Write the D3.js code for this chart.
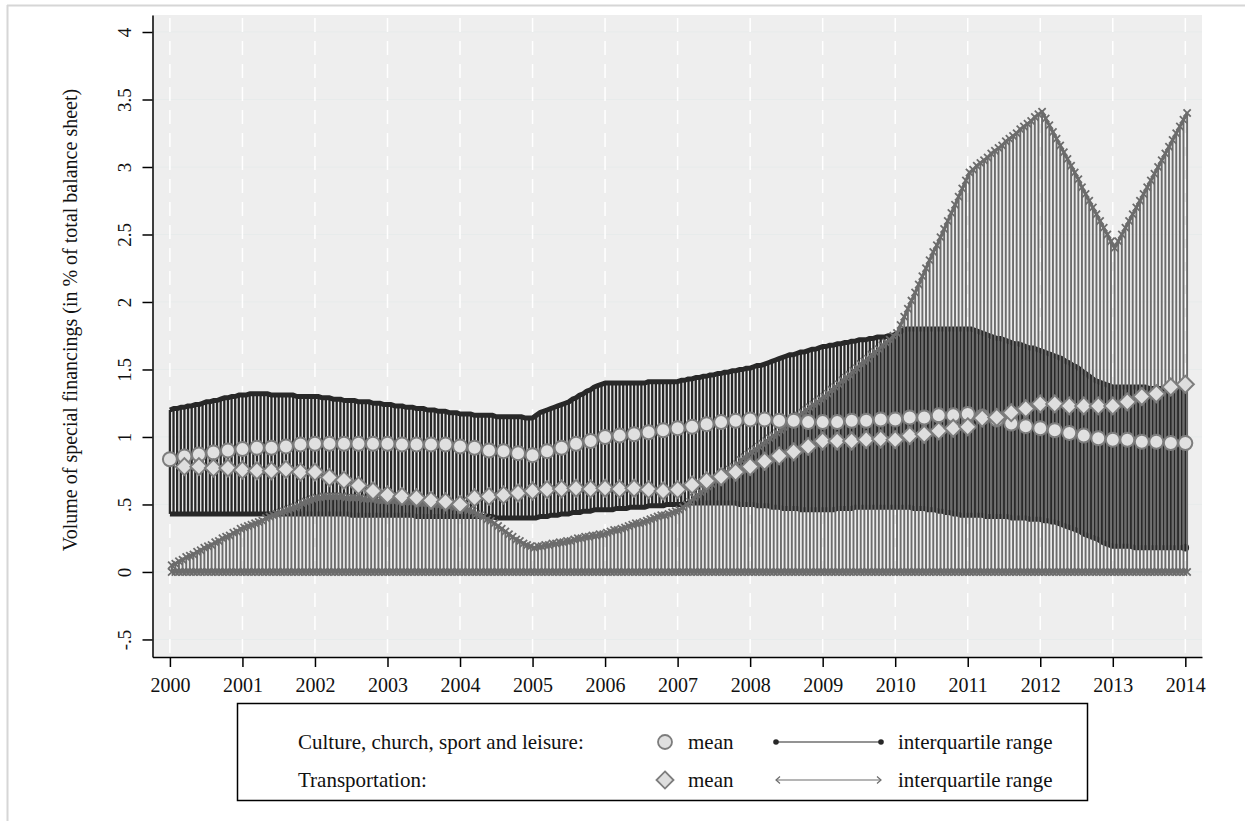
<!DOCTYPE html>
<html>
<head>
<meta charset="utf-8">
<script src="https://cdn.jsdelivr.net/npm/d3@7"></script>
<style>
body { margin: 0; background: #fff; }
text { font-family: "Liberation Serif", "DejaVu Serif", serif; fill: #111; }
</style>
</head>
<body>
<svg id="chart" width="1245" height="821"></svg>
<script>
// tick labels
var xTickYears = [2000,2001,2002,2003,2004,2005,2006,2007,2008,2009,2010,2011,2012,2013,2014];
var yTickValues = [-0.5,0,0.5,1,1.5,2,2.5,3,3.5,4];
var yTickLabels = ["-.5","0",".5","1","1.5","2","2.5","3","3.5","4"];

// interquartile range, 20 readings per year (2000 .. 2014)
var cultureHi = [
1.20,1.21,1.21,1.22,1.22,1.23,1.23,1.24,1.24,1.25,1.26,1.26,1.27,1.27,1.28,1.29,1.29,1.30,1.30,1.31,
1.31,1.31,1.32,1.32,1.32,1.32,1.32,1.32,1.31,1.31,1.31,1.31,1.31,1.31,1.31,1.30,1.30,1.30,1.30,1.30,
1.30,1.30,1.29,1.29,1.29,1.28,1.28,1.28,1.27,1.27,1.27,1.27,1.26,1.26,1.26,1.26,1.25,1.25,1.25,1.24,
1.24,1.24,1.23,1.23,1.23,1.22,1.22,1.22,1.21,1.21,1.21,1.20,1.20,1.20,1.19,1.19,1.19,1.18,1.18,1.18,
1.17,1.17,1.17,1.17,1.16,1.16,1.16,1.16,1.16,1.16,1.15,1.15,1.15,1.15,1.15,1.15,1.15,1.15,1.14,1.14,
1.14,1.16,1.18,1.19,1.20,1.21,1.22,1.23,1.24,1.25,1.26,1.28,1.29,1.31,1.32,1.34,1.35,1.37,1.38,1.39,
1.40,1.40,1.40,1.40,1.40,1.40,1.40,1.40,1.40,1.40,1.40,1.40,1.41,1.41,1.41,1.41,1.41,1.41,1.41,1.41,
1.41,1.42,1.42,1.43,1.43,1.44,1.44,1.45,1.45,1.46,1.46,1.47,1.47,1.48,1.48,1.49,1.49,1.50,1.50,1.51,
1.51,1.52,1.53,1.53,1.54,1.55,1.56,1.57,1.58,1.59,1.60,1.61,1.61,1.62,1.63,1.63,1.64,1.65,1.65,1.66,
1.67,1.67,1.68,1.68,1.69,1.69,1.70,1.70,1.71,1.71,1.72,1.72,1.72,1.73,1.73,1.74,1.74,1.74,1.75,1.75,
1.76,1.77,1.79,1.80,1.80,1.80,1.80,1.80,1.80,1.80,1.80,1.80,1.80,1.80,1.80,1.80,1.80,1.80,1.80,1.80,
1.80,1.80,1.79,1.78,1.77,1.76,1.75,1.74,1.73,1.73,1.72,1.71,1.70,1.69,1.69,1.68,1.67,1.66,1.66,1.65,
1.64,1.63,1.62,1.61,1.60,1.59,1.58,1.56,1.55,1.53,1.52,1.50,1.48,1.46,1.44,1.42,1.41,1.40,1.39,1.38,
1.37,1.37,1.37,1.37,1.37,1.37,1.37,1.37,1.37,1.37,1.36,1.36,1.36,1.36,1.36,1.36,1.36,1.36,1.36,1.36,
1.36];

var cultureLo = [
.43,.43,.43,.43,.43,.43,.43,.43,.43,.43,.43,.43,.43,.43,.43,.43,.43,.43,.43,.43,
.43,.43,.43,.43,.43,.43,.43,.43,.43,.43,.43,.43,.43,.43,.43,.43,.43,.43,.43,.43,
.43,.43,.43,.43,.43,.43,.43,.43,.43,.43,.42,.42,.42,.42,.42,.42,.42,.42,.42,.42,
.42,.42,.42,.42,.42,.42,.42,.42,.41,.41,.41,.41,.41,.41,.41,.41,.41,.41,.41,.41,
.41,.41,.41,.41,.41,.41,.41,.41,.41,.41,.40,.40,.40,.40,.40,.40,.40,.40,.40,.40,
.40,.40,.41,.41,.41,.42,.42,.42,.43,.43,.43,.44,.44,.44,.45,.45,.45,.46,.46,.46,
.46,.46,.46,.47,.47,.47,.47,.48,.48,.48,.48,.48,.49,.49,.49,.49,.49,.50,.50,.50,
.50,.50,.50,.51,.51,.51,.51,.51,.51,.51,.51,.51,.51,.51,.51,.51,.51,.50,.50,.50,
.50,.50,.49,.49,.49,.49,.48,.48,.48,.47,.47,.47,.47,.47,.46,.46,.46,.46,.46,.46,
.46,.46,.46,.46,.47,.47,.47,.47,.47,.48,.48,.48,.48,.48,.48,.48,.48,.48,.48,.48,
.48,.48,.48,.48,.48,.47,.47,.47,.47,.46,.46,.46,.45,.45,.44,.44,.43,.43,.42,.42,
.42,.42,.42,.42,.42,.41,.41,.41,.41,.41,.41,.41,.40,.40,.40,.40,.40,.39,.39,.39,
.39,.38,.38,.37,.37,.36,.35,.34,.33,.32,.31,.30,.28,.27,.26,.25,.24,.22,.21,.20,
.19,.19,.19,.19,.19,.19,.18,.18,.18,.18,.18,.18,.18,.18,.18,.18,.18,.18,.18,.18,
.18];

var transportHi = [
.05,.06,.08,.09,.11,.12,.13,.15,.16,.18,.19,.20,.22,.23,.25,.26,.27,.29,.30,.32,
.33,.34,.35,.36,.37,.38,.40,.41,.42,.43,.44,.45,.46,.47,.48,.49,.51,.52,.53,.54,
.55,.55,.56,.56,.56,.56,.56,.56,.55,.55,.55,.55,.55,.54,.54,.54,.54,.53,.53,.53,
.53,.53,.53,.52,.52,.52,.52,.52,.51,.51,.51,.51,.50,.50,.50,.49,.49,.49,.48,.48,
.48,.47,.46,.45,.43,.42,.41,.39,.38,.36,.34,.32,.30,.28,.26,.24,.23,.21,.20,.19,
.18,.19,.19,.20,.20,.21,.21,.22,.22,.23,.23,.24,.25,.25,.26,.26,.27,.27,.28,.28,
.29,.30,.31,.31,.32,.33,.34,.35,.36,.36,.37,.38,.39,.40,.41,.42,.42,.43,.44,.45,
.46,.48,.50,.52,.55,.57,.59,.61,.63,.65,.68,.70,.72,.74,.76,.78,.80,.83,.85,.87,
.89,.91,.93,.95,.97,.99,1.01,1.03,1.05,1.07,1.10,1.12,1.14,1.16,1.18,1.20,1.22,1.24,1.26,1.28,
1.30,1.32,1.35,1.37,1.39,1.42,1.44,1.46,1.49,1.51,1.54,1.56,1.58,1.61,1.63,1.65,1.68,1.70,1.72,1.75,
1.77,1.83,1.89,1.95,2.01,2.07,2.13,2.19,2.25,2.31,2.37,2.42,2.48,2.54,2.60,2.66,2.72,2.78,2.84,2.90,
2.96,2.98,3.01,3.03,3.05,3.07,3.10,3.12,3.14,3.16,3.19,3.21,3.23,3.25,3.28,3.30,3.32,3.34,3.37,3.39,
3.41,3.36,3.31,3.26,3.21,3.16,3.11,3.06,3.01,2.96,2.91,2.85,2.80,2.75,2.70,2.65,2.60,2.55,2.50,2.45,
2.40,2.45,2.50,2.55,2.60,2.65,2.70,2.75,2.80,2.85,2.90,2.95,3.00,3.05,3.10,3.15,3.20,3.25,3.30,3.35,
3.40];

var transportLo = [
0,0,0,0,0,0,0,0,0,0,0,0,0,0,0,0,0,0,0,0,
0,0,0,0,0,0,0,0,0,0,0,0,0,0,0,0,0,0,0,0,
0,0,0,0,0,0,0,0,0,0,0,0,0,0,0,0,0,0,0,0,
0,0,0,0,0,0,0,0,0,0,0,0,0,0,0,0,0,0,0,0,
0,0,0,0,0,0,0,0,0,0,0,0,0,0,0,0,0,0,0,0,
0,0,0,0,0,0,0,0,0,0,0,0,0,0,0,0,0,0,0,0,
0,0,0,0,0,0,0,0,0,0,0,0,0,0,0,0,0,0,0,0,
0,0,0,0,0,0,0,0,0,0,0,0,0,0,0,0,0,0,0,0,
0,0,0,0,0,0,0,0,0,0,0,0,0,0,0,0,0,0,0,0,
0,0,0,0,0,0,0,0,0,0,0,0,0,0,0,0,0,0,0,0,
0,0,0,0,0,0,0,0,0,0,0,0,0,0,0,0,0,0,0,0,
0,0,0,0,0,0,0,0,0,0,0,0,0,0,0,0,0,0,0,0,
0,0,0,0,0,0,0,0,0,0,0,0,0,0,0,0,0,0,0,0,
0,0,0,0,0,0,0,0,0,0,0,0,0,0,0,0,0,0,0,0,
0];

// means, 5 readings per year (2000 .. 2014)
var cultureMean = [
0.835,0.855,0.87,0.885,0.90,
0.91,0.92,0.92,0.93,0.945,
0.95,0.95,0.95,0.95,0.95,
0.95,0.945,0.945,0.945,0.945,
0.93,0.92,0.90,0.895,0.88,
0.865,0.895,0.92,0.95,0.97,
1.00,1.01,1.02,1.035,1.05,
1.065,1.075,1.095,1.11,1.12,
1.13,1.13,1.12,1.12,1.11,
1.11,1.11,1.12,1.12,1.13,
1.13,1.145,1.145,1.16,1.16,
1.17,1.15,1.13,1.10,1.08,
1.065,1.05,1.03,1.01,0.99,
0.98,0.98,0.965,0.965,0.955,
0.955];

var transportMean = [
null,0.78,0.78,0.77,0.77,
0.755,0.75,0.75,0.76,0.74,
0.74,0.70,0.68,0.64,0.60,
0.57,0.56,0.55,0.53,0.52,
0.50,0.55,0.56,0.57,0.585,
0.60,0.61,0.615,0.62,0.615,
0.62,0.615,0.62,0.61,0.60,
0.61,0.645,0.675,0.705,0.74,
0.78,0.82,0.86,0.89,0.93,
0.97,0.97,0.97,0.98,0.985,
0.98,1.01,1.02,1.045,1.065,
1.075,1.14,1.145,1.18,1.21,
1.245,1.245,1.23,1.23,1.23,
1.23,1.26,1.30,1.32,1.37,
1.39];

var svg = d3.select("#chart");
var plot = {left: 152.5, right: 1202, top: 15, bottom: 657};

var x = d3.scaleLinear().domain([1999.76, 2014.23]).range([plot.left, plot.right]);
var y = d3.scaleLinear().domain([-0.63, 4.126]).range([plot.bottom, plot.top]);

var spikeYear = function(i){ return 2000 + i / 20; };
var meanYear = function(i){ return 2000 + i / 5; };

var darkCol = "#282828", grayCol = "#6c6c6c";
var fs = "20px";

// outer frame
svg.append("line").attr("x1",7).attr("x2",1245).attr("y1",5.5).attr("y2",5.5)
    .attr("stroke","#d6d6d6").attr("stroke-width",2);
svg.append("line").attr("x1",7.5).attr("x2",7.5).attr("y1",5).attr("y2",821)
    .attr("stroke","#d6d6d6").attr("stroke-width",2);

// plot background
svg.append("rect")
    .attr("x",plot.left).attr("y",plot.top)
    .attr("width",plot.right-plot.left).attr("height",plot.bottom-plot.top)
    .attr("fill","#eeeeee");

// grid
svg.append("g").selectAll("line").data(yTickValues).enter().append("line")
    .attr("x1",plot.left).attr("x2",plot.right)
    .attr("y1",d=>y(d)).attr("y2",d=>y(d))
    .attr("stroke","#e7ebeb").attr("stroke-width",1);

svg.append("g").selectAll("line").data(xTickYears).enter().append("line")
    .attr("x1",d=>x(d)).attr("x2",d=>x(d))
    .attr("y1",plot.top+3).attr("y2",plot.bottom)
    .attr("stroke","#ffffff").attr("stroke-width",1.5)
    .attr("stroke-dasharray","14,9");

// culture: interquartile range spikes
var gC = svg.append("g");
gC.selectAll("line").data(cultureHi).enter().append("line")
    .attr("x1",(d,i)=>x(spikeYear(i))).attr("x2",(d,i)=>x(spikeYear(i)))
    .attr("y1",(d,i)=>y(cultureLo[i])).attr("y2",d=>y(d))
    .attr("stroke",darkCol).attr("stroke-width",2.3);

var lineC = d3.line().x((d,i)=>x(spikeYear(i))).y(d=>y(d));
[cultureHi, cultureLo].forEach(function(s){
    gC.append("path").datum(s).attr("d",lineC)
        .attr("fill","none").attr("stroke",darkCol)
        .attr("stroke-width",5).attr("stroke-linejoin","round");
});
gC.append("circle").attr("cx",x(2014)).attr("cy",y(cultureLo[cultureLo.length-1]))
    .attr("r",3.8).attr("fill","#222");

// transportation: interquartile range spikes
var gT = svg.append("g").attr("transform","translate(1.8,0)");
gT.selectAll("line").data(transportHi).enter().append("line")
    .attr("x1",(d,i)=>x(spikeYear(i))).attr("x2",(d,i)=>x(spikeYear(i)))
    .attr("y1",(d,i)=>y(transportLo[i])).attr("y2",d=>y(d))
    .attr("stroke",grayCol).attr("stroke-width",1.9);

[transportHi, transportLo].forEach(function(s){
    gT.append("path").datum(s).attr("d",lineC)
        .attr("fill","none").attr("stroke",grayCol)
        .attr("stroke-width",3).attr("stroke-linejoin","round");
    gT.append("g").selectAll("path").data(s).enter().append("path")
        .attr("d",d3.symbol().type(d3.symbolX).size(36))
        .attr("transform",(d,i)=>"translate("+x(spikeYear(i))+","+y(d)+")")
        .attr("fill","none").attr("stroke",grayCol).attr("stroke-width",1.8);
});

// means
svg.append("g").selectAll("circle").data(cultureMean).enter().append("circle")
    .attr("cx",(d,i)=>x(meanYear(i))).attr("cy",d=>y(d))
    .attr("r",7)
    .attr("fill","#e0e0e0").attr("stroke","#7d7d7d").attr("stroke-width",2);

var diamond = d3.symbol().type(d3.symbolDiamond2).size(185);
svg.append("g").selectAll("path").data(transportMean.map((d,i)=>[i,d]).filter(p=>p[1]!==null))
    .enter().append("path")
    .attr("d",diamond)
    .attr("transform",p=>"translate("+x(meanYear(p[0]))+","+y(p[1])+")")
    .attr("fill","#dedede").attr("stroke","#7d7d7d").attr("stroke-width",2);

// axes
var yAxis = d3.axisLeft(y).tickValues(yTickValues)
    .tickFormat((d,i)=>yTickLabels[i]).tickSize(10).tickSizeOuter(0);
var gy = svg.append("g").attr("transform","translate("+plot.left+",0)").call(yAxis);
gy.select(".domain").attr("stroke","#000").attr("stroke-width",1.5);
gy.selectAll(".tick line").attr("stroke","#000").attr("stroke-width",1.5);
gy.selectAll(".tick text")
    .attr("x",0).attr("y",-22).attr("dy",0)
    .attr("transform","rotate(-90)")
    .attr("text-anchor","middle")
    .style("font-family","'Liberation Serif', serif")
    .style("font-size","19px").attr("fill","#111");

var xAxis = d3.axisBottom(x).tickValues(xTickYears)
    .tickFormat(d3.format("d")).tickSize(10).tickSizeOuter(0);
var gx = svg.append("g").attr("transform","translate(0,"+plot.bottom+")").call(xAxis);
gx.select(".domain").attr("stroke","#000").attr("stroke-width",1.5);
gx.selectAll(".tick line").attr("stroke","#000").attr("stroke-width",1.5);
gx.selectAll(".tick text")
    .attr("y",35).attr("dy",0)
    .style("font-family","'Liberation Serif', serif")
    .style("font-size",fs).attr("fill","#111");

svg.append("text")
    .attr("transform","translate(77,320) rotate(-90)")
    .attr("text-anchor","middle")
    .style("font-size",fs)
    .text("Volume of special financings (in % of total balance sheet)");

// legend
var lg = svg.append("g");
var lfs = "21px";
lg.append("rect").attr("x",237.5).attr("y",703.5).attr("width",850).attr("height",97)
    .attr("fill","#fff").attr("stroke","#000").attr("stroke-width",1.5);

var rows = [
    {label:"Culture, church, sport and leisure:", y:742},
    {label:"Transportation:", y:780}
];
rows.forEach(function(r){
    lg.append("text").attr("x",298).attr("y",r.y+7).style("font-size",lfs).text(r.label);
    lg.append("text").attr("x",688).attr("y",r.y+7).style("font-size",lfs).text("mean");
    lg.append("text").attr("x",898).attr("y",r.y+7).style("font-size",lfs).text("interquartile range");
});
lg.append("circle").attr("cx",665).attr("cy",rows[0].y).attr("r",7)
    .attr("fill","#e0e0e0").attr("stroke","#7d7d7d").attr("stroke-width",1.8);
lg.append("path").attr("d",diamond).attr("transform","translate(665,"+rows[1].y+")")
    .attr("fill","#dedede").attr("stroke","#7d7d7d").attr("stroke-width",1.8);

lg.append("line").attr("x1",776).attr("x2",881).attr("y1",rows[0].y).attr("y2",rows[0].y)
    .attr("stroke",darkCol).attr("stroke-width",1.2);
[776,881].forEach(function(px){
    lg.append("circle").attr("cx",px).attr("cy",rows[0].y).attr("r",2.8).attr("fill",darkCol);
});
lg.append("line").attr("x1",776).attr("x2",881).attr("y1",rows[1].y).attr("y2",rows[1].y)
    .attr("stroke",grayCol).attr("stroke-width",1.2);
lg.append("path").attr("d","M780,"+(rows[1].y-3.5)+" L776,"+rows[1].y+" L780,"+(rows[1].y+3.5))
    .attr("fill","none").attr("stroke",grayCol).attr("stroke-width",1.2);
lg.append("path").attr("d","M877,"+(rows[1].y-3.5)+" L881,"+rows[1].y+" L877,"+(rows[1].y+3.5))
    .attr("fill","none").attr("stroke",grayCol).attr("stroke-width",1.2);
</script>
</body>
</html>
